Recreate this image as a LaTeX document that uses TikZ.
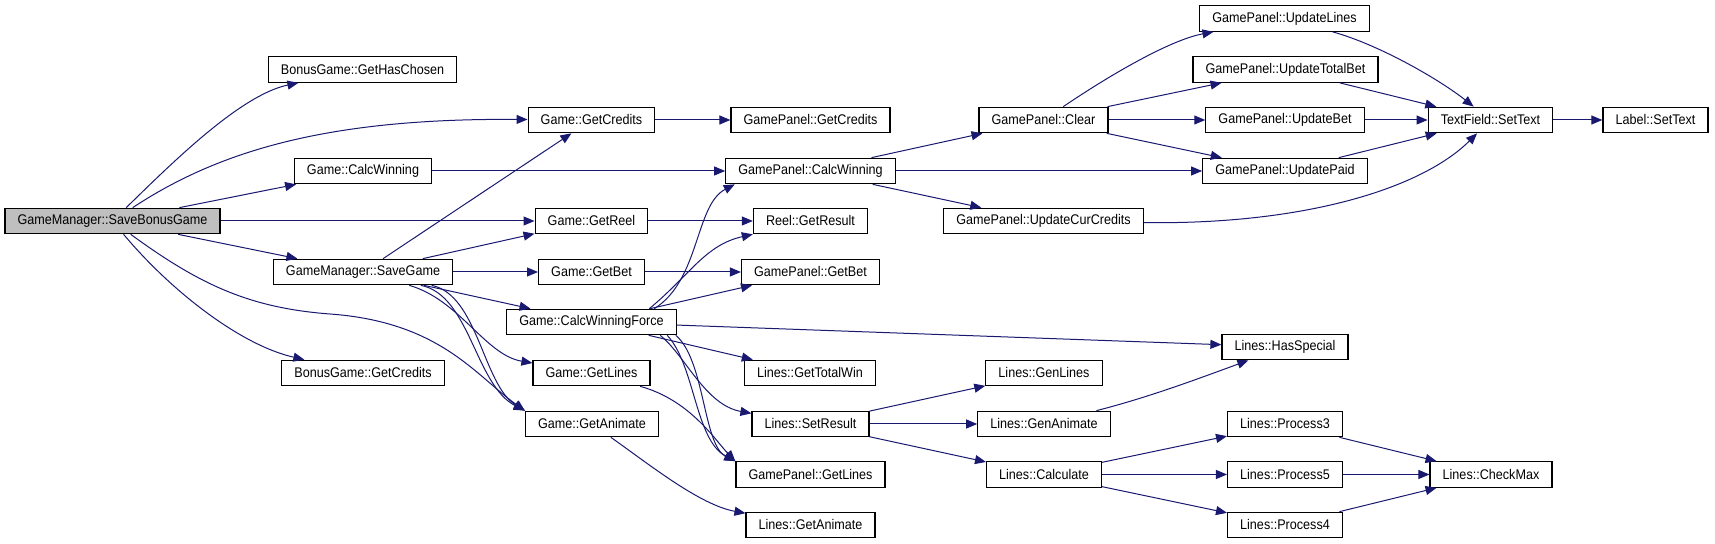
\documentclass[tikz,border=0pt]{standalone}
\usepackage{fontspec}
\newfontfamily\graphfont{Liberation Sans}[FakeStretch=0.9]
\usetikzlibrary{arrows.meta}
\definecolor{navyedge}{HTML}{191970}
\definecolor{rootgray}{HTML}{BFBFBF}

\begin{document}
\begin{tikzpicture}[x=0.5pt,y=-0.5pt,
  fn/.style={draw=black,line width=0.6pt,fill=white,minimum height=12.75pt,inner xsep=6.3pt,inner ysep=0pt,font=\graphfont\fontsize{7}{8}\selectfont},
  root/.style={fn,fill=rootgray},
  call/.style={-{Triangle[length=5.5pt,width=4.5pt]},draw=navyedge,line width=0.5pt}]
\useasboundingbox (0,0) rectangle (1715,544);
% callers
\node[root] (sbg) at (112.5,221) {GameManager::SaveBonusGame};
\node[fn] (hasChosen) at (362.5,69.5) {BonusGame::GetHasChosen};
\node[fn] (gCalcWin) at (363,171) {Game::CalcWinning};
\node[fn] (saveGame) at (363,272) {GameManager::SaveGame};
\node[fn] (bCredits) at (363,373) {BonusGame::GetCredits};
% game
\node[fn] (gCredits) at (591.5,120) {Game::GetCredits};
\node[fn] (gReel) at (591.5,221) {Game::GetReel};
\node[fn] (gBet) at (591.5,272) {Game::GetBet};
\node[fn] (gCWF) at (591.5,322) {Game::CalcWinningForce};
\node[fn] (gLines) at (591.5,373) {Game::GetLines};
\node[fn] (gAnimate) at (592,424) {Game::GetAnimate};
% panel, reel, lines
\node[fn] (pCredits) at (810.5,120) {GamePanel::GetCredits};
\node[fn] (pCalcWin) at (810.5,171) {GamePanel::CalcWinning};
\node[fn] (reelRes) at (810.5,221) {Reel::GetResult};
\node[fn] (pBet) at (810.5,272) {GamePanel::GetBet};
\node[fn] (totalWin) at (810,373) {Lines::GetTotalWin};
\node[fn] (setResult) at (810.5,424) {Lines::SetResult};
\node[fn] (pLines) at (810.5,474.5) {GamePanel::GetLines};
\node[fn] (lAnimate) at (810.5,525) {Lines::GetAnimate};
\node[fn] (clear) at (1043.5,120) {GamePanel::Clear};
\node[fn] (curCredits) at (1043.5,221) {GamePanel::UpdateCurCredits};
\node[fn] (genLines) at (1044,373) {Lines::GenLines};
\node[fn] (genAnimate) at (1044,424) {Lines::GenAnimate};
\node[fn] (calculate) at (1044,474.5) {Lines::Calculate};
\node[fn] (updLines) at (1284.5,18.5) {GamePanel::UpdateLines};
\node[fn] (updTotalBet) at (1285.5,69.5) {GamePanel::UpdateTotalBet};
\node[fn] (updBet) at (1285,120) {GamePanel::UpdateBet};
\node[fn] (updPaid) at (1285,171) {GamePanel::UpdatePaid};
\node[fn] (hasSpecial) at (1285,347) {Lines::HasSpecial};
\node[fn] (proc3) at (1285,424) {Lines::Process3};
\node[fn] (proc5) at (1285,474.5) {Lines::Process5};
\node[fn] (proc4) at (1285,525) {Lines::Process4};
\node[fn] (textSet) at (1490.5,120) {TextField::SetText};
\node[fn] (checkMax) at (1491,474.5) {Lines::CheckMax};
\node[fn] (labelSet) at (1655.5,120) {Label::SetText};
% straight calls
\foreach \a/\b in {sbg/gCalcWin,sbg/gReel,sbg/saveGame,saveGame/gCredits,saveGame/gReel,saveGame/gBet,saveGame/gCWF,
  gCredits/pCredits,gCalcWin/pCalcWin,gReel/reelRes,gBet/pBet,gCWF/pBet,gCWF/hasSpecial,gCWF/totalWin,
  pCalcWin/clear,pCalcWin/updPaid,pCalcWin/curCredits,clear/updTotalBet,clear/updBet,clear/updPaid,
  updTotalBet/textSet,updBet/textSet,updPaid/textSet,textSet/labelSet,
  setResult/genLines,setResult/genAnimate,setResult/calculate,calculate/proc3,calculate/proc5,calculate/proc4,
  proc3/checkMax,proc5/checkMax,proc4/checkMax}{\draw[call] (\a)--(\b);}
% curved calls
\draw[call] (sbg) .. controls (170,165) and (240,95) .. (hasChosen);
\draw[call] (sbg) .. controls (220,150) and (330,118) .. (gCredits);
\draw[call] (sbg) .. controls (170,290) and (240,345) .. (bCredits);
\draw[call] (sbg) .. controls (200,285) and (250,308) .. (330,314) .. controls (440,322) and (475,375) .. (gAnimate.north west);
\draw[call] (saveGame) .. controls (460,300) and (485,355) .. (gLines);
\draw[call] (saveGame.-13) .. controls (470,295) and (475,385) .. (gAnimate.north west);
\draw[call] (saveGame.-11) .. controls (478,295) and (483,385) .. (gAnimate.north west);
\draw[call] (gCWF.12) .. controls (700,280) and (695,205) .. (pCalcWin.190);
\draw[call] (gCWF.13) .. controls (690,275) and (705,245) .. (reelRes.193);
\draw[call] (gCWF.-11) .. controls (685,355) and (705,405) .. (setResult);
\draw[call] (gCWF.-10) .. controls (695,365) and (695,440) .. (pLines.north west);
\draw[call] (gCWF.-9) .. controls (705,360) and (703,445) .. (pLines.north west);
\draw[call] (gLines) .. controls (690,400) and (715,440) .. (pLines.north west);
\draw[call] (gAnimate) .. controls (650,465) and (700,505) .. (lAnimate);
\draw[call] (clear) .. controls (1110,75) and (1170,40) .. (updLines);
\draw[call] (updLines) .. controls (1380,45) and (1440,80) .. (textSet);
\draw[call] (curCredits) .. controls (1300,225) and (1420,190) .. (textSet);
\draw[call] (genAnimate) .. controls (1150,397) and (1200,378) .. (hasSpecial);
\end{tikzpicture}
\end{document}
